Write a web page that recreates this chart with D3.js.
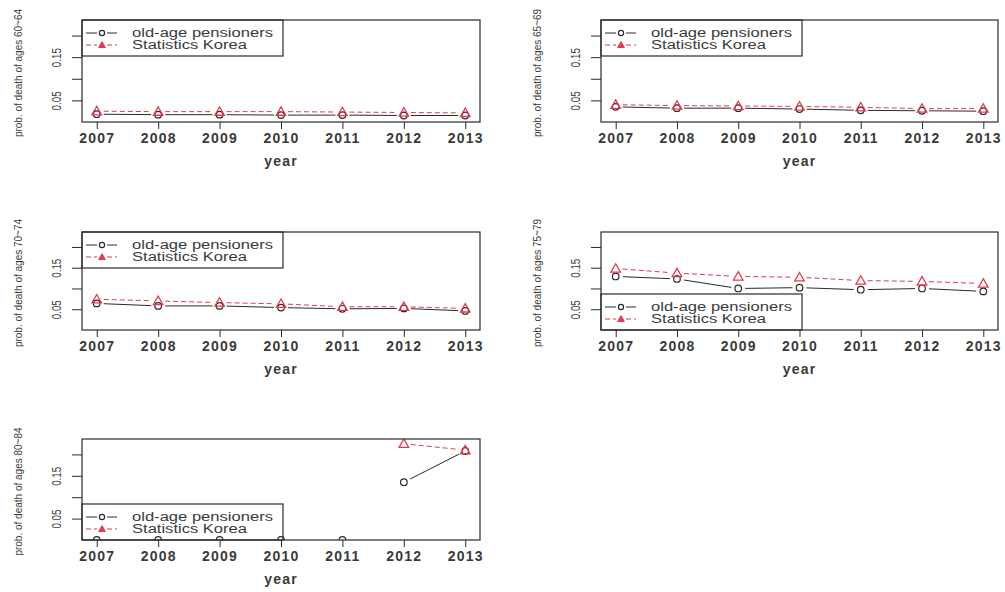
<!DOCTYPE html>
<html>
<head>
<meta charset="utf-8">
<script src="https://cdn.jsdelivr.net/npm/d3@7"></script>
<style>
  body { margin: 0; background: #fff; }
  svg { display: block; }
  text { fill: #3a3a3a; }
</style>
</head>
<body>
<svg id="chart" width="1005" height="592"></svg>
<script>
// data
const years = [2007, 2008, 2009, 2010, 2011, 2012, 2013];
const ageGroups = ["60~64", "65~69", "70~74", "75~79", "80~84"];
const seriesNames = ["old-age pensioners", "Statistics Korea"];
const yTicks = [0.05, 0.10, 0.15, 0.20];
const yTickLabels = ["0.05", "", "0.15", ""];

const pensioners6064 = [0.018, 0.017, 0.017, 0.016, 0.016, 0.015, 0.015];
const korea6064      = [0.025, 0.024, 0.024, 0.024, 0.023, 0.022, 0.021];
const pensioners6569 = [0.035, 0.032, 0.032, 0.030, 0.027, 0.026, 0.025];
const korea6569      = [0.040, 0.038, 0.037, 0.036, 0.034, 0.031, 0.031];
const pensioners7074 = [0.064, 0.058, 0.058, 0.054, 0.051, 0.052, 0.046];
const korea7074      = [0.074, 0.070, 0.066, 0.063, 0.056, 0.056, 0.052];
const pensioners7579 = [0.129, 0.123, 0.100, 0.102, 0.097, 0.100, 0.093];
const korea7579      = [0.148, 0.137, 0.129, 0.127, 0.119, 0.117, 0.112];
const pensioners8084 = [0, 0, 0, 0, 0, 0.135, 0.208];
const korea8084      = [null, null, null, null, null, 0.225, 0.210];

const pensioners = [pensioners6064, pensioners6569, pensioners7074, pensioners7579, pensioners8084];
const korea = [korea6064, korea6569, korea7074, korea7579, korea8084];
const legendPos = ["topleft", "topleft", "topleft", "bottomleft", "bottomleft"];

const red = "#e33b50";
const ink = "#2a2a2a";
const sans = "Liberation Sans, Arial, sans-serif";

const svg = d3.select("#chart");

const colLeft = [82, 601];
const colWidth = [398, 397];
const rowTop = [20, 232, 439];
const rowHeight = [102, 98, 101];

function triangle(cx, cy, s) {
    return `M${cx},${cy - s}L${cx + s},${cy + s * 0.75}L${cx - s},${cy + s * 0.75}Z`;
}

function drawSeries(g, x, y, values, opts) {
    let pts = years.map((yr, i) => ({ year: yr, v: values[i] }));
    let gap = 7;
    // type="b" look: segments stop short of each point
    let segs = [];
    for (let i = 0; i < pts.length - 1; i++) {
        let a = pts[i], b = pts[i + 1];
        if (a.v == null || b.v == null) continue;
        if (a.v <= 0 || b.v <= 0) continue;
        let x1 = x(a.year), y1 = y(a.v), x2 = x(b.year), y2 = y(b.v);
        let len = Math.hypot(x2 - x1, y2 - y1);
        if (len <= 2 * gap) continue;
        let ux = (x2 - x1) / len, uy = (y2 - y1) / len;
        segs.push([x1 + ux * gap, y1 + uy * gap, x2 - ux * gap, y2 - uy * gap]);
    }
    g.selectAll(null).data(segs).join("line")
        .attr("x1", d => d[0]).attr("y1", d => d[1])
        .attr("x2", d => d[2]).attr("y2", d => d[3])
        .attr("stroke", opts.color)
        .attr("stroke-width", 1)
        .attr("stroke-dasharray", opts.dash || null);

    let valid = pts.filter(d => d.v != null);
    if (opts.shape === "circle") {
        g.selectAll(null).data(valid).join("circle")
            .attr("cx", d => x(d.year)).attr("cy", d => y(d.v))
            .attr("r", 3.3)
            .attr("fill", "none").attr("stroke", opts.color).attr("stroke-width", 1.2);
    } else {
        g.selectAll(null).data(valid).join("path")
            .attr("d", d => triangle(x(d.year), y(d.v), 4.8))
            .attr("fill", "none").attr("stroke", opts.color).attr("stroke-width", 1.3);
    }
}

ageGroups.forEach((age, i) => {
    let col = i % 2, row = Math.floor(i / 2);
    let left = colLeft[col], w = colWidth[col];
    let top = rowTop[row], h = rowHeight[row];

    let x = d3.scaleLinear().domain([2007 - 0.24, 2013 + 0.24]).range([left, left + w]);
    let y = d3.scaleLinear().domain([0, 0.236]).range([top + h, top]);

    let panel = svg.append("g").attr("class", "panel");

    let clipId = "clip" + i;
    svg.append("clipPath").attr("id", clipId)
        .append("rect").attr("x", left).attr("y", top).attr("width", w).attr("height", h);

    // x axis
    panel.append("g")
        .attr("transform", `translate(0,${top + h})`)
        .call(d3.axisBottom(x).tickValues(years).tickSize(7).tickPadding(4).tickFormat(d3.format("d")))
        .call(g => g.select(".domain").remove())
        .call(g => g.selectAll(".tick line").attr("stroke", ink))
        .call(g => g.selectAll(".tick text")
            .attr("font-family", sans)
            .attr("font-size", 14).attr("font-weight", "bold")
            .attr("letter-spacing", 1.2).attr("fill", "#444"));

    // y axis, labels parallel to the axis like base R
    panel.append("g")
        .attr("transform", `translate(${left},0)`)
        .call(d3.axisLeft(y).tickValues(yTicks).tickSize(10)
            .tickFormat((d, k) => yTickLabels[k]))
        .call(g => g.select(".domain").remove())
        .call(g => g.selectAll(".tick line").attr("stroke", ink))
        .call(g => g.selectAll(".tick text")
            .attr("transform", "rotate(-90)")
            .attr("x", 0).attr("y", -21).attr("dy", 0)
            .attr("text-anchor", "middle")
            .attr("font-family", sans)
            .attr("font-size", 12).attr("fill", "#444")
            .attr("textLength", d => yTickLabels[yTicks.indexOf(d)] ? 19 : null)
            .attr("lengthAdjust", "spacingAndGlyphs"));

    // axis titles
    panel.append("text")
        .attr("transform", `translate(${left - 60},${top + h / 2 + 2}) rotate(-90)`)
        .attr("text-anchor", "middle")
        .attr("font-family", sans)
        .attr("font-size", 10)
        .text("prob. of death of ages " + age);

    panel.append("text")
        .attr("x", left + w / 2).attr("y", top + h + 44)
        .attr("text-anchor", "middle")
        .attr("font-family", sans)
        .attr("font-size", 14).attr("font-weight", "bold")
        .attr("letter-spacing", 1.2).attr("fill", "#444")
        .text("year");

    // data
    let plot = panel.append("g").attr("clip-path", `url(#${clipId})`);
    drawSeries(plot, x, y, pensioners[i], { color: ink, shape: "circle" });
    drawSeries(plot, x, y, korea[i], { color: red, shape: "triangle", dash: "5,3" });

    // box
    panel.append("rect")
        .attr("x", left).attr("y", top).attr("width", w).attr("height", h)
        .attr("fill", "none").attr("stroke", ink).attr("stroke-width", 1.2);

    // legend (transparent background, as in R)
    let lw = 201, lh = 36;
    let ly = legendPos[i] === "topleft" ? top : top + h - lh;
    let lg = panel.append("g").attr("transform", `translate(${left},${ly})`);
    lg.append("rect").attr("width", lw).attr("height", lh)
        .attr("fill", "none").attr("stroke", ink).attr("stroke-width", 1.2);
    let textLen = [141, 115];
    seriesNames.forEach((name, k) => {
        let ry = k === 0 ? 13 : 25;
        let color = k === 0 ? ink : red;
        lg.append("line").attr("x1", 4).attr("x2", 15).attr("y1", ry).attr("y2", ry)
            .attr("stroke", color).attr("stroke-dasharray", k ? "5,3" : null);
        lg.append("line").attr("x1", 25).attr("x2", 35).attr("y1", ry).attr("y2", ry)
            .attr("stroke", color).attr("stroke-dasharray", k ? "5,3" : null);
        if (k === 0) {
            lg.append("circle").attr("cx", 20).attr("cy", ry).attr("r", 2.6)
                .attr("fill", "none").attr("stroke", color).attr("stroke-width", 1.2);
        } else {
            lg.append("path").attr("d", triangle(20, ry, 3.4))
                .attr("fill", color).attr("stroke", color).attr("stroke-width", 1);
        }
        lg.append("text").attr("x", 50).attr("y", ry).attr("dy", "0.36em")
            .attr("font-family", sans)
            .attr("font-size", 12)
            .attr("textLength", textLen[k])
            .attr("lengthAdjust", "spacingAndGlyphs")
            .text(name);
    });
});
</script>
</body>
</html>
